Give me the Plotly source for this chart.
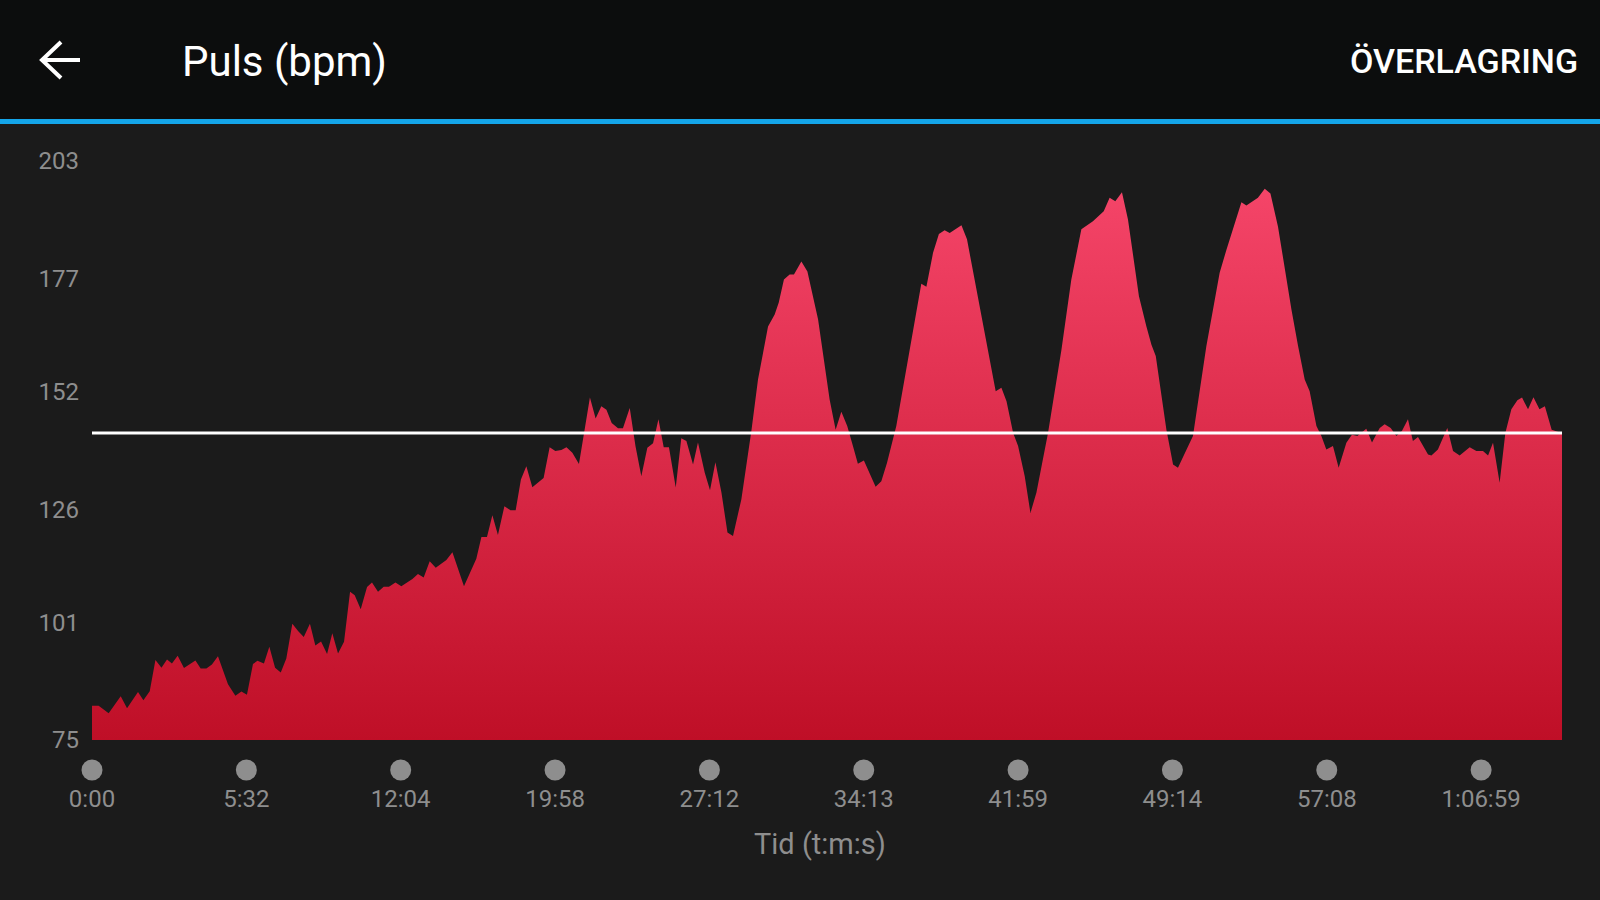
import plotly.graph_objects as go

# x axis: evenly spaced tick positions carrying elapsed-time labels
tick_pos = [0, 1, 2, 3, 4, 5, 6, 7, 8, 9]
tick_time = ["0:00", "5:32", "12:04", "19:58", "27:12", "34:13",
             "41:59", "49:14", "57:08", "1:06:59"]

y_ticks = [75, 101, 126, 152, 177, 203]
avg_bpm = 142.9

pos = [0, 0.043, 0.108, 0.186, 0.227, 0.298, 0.333, 0.374, 0.411, 0.450,
       0.486, 0.518, 0.555, 0.596, 0.670, 0.704, 0.741, 0.777, 0.816, 0.881,
       0.929, 0.968, 1.004, 1.043, 1.072, 1.114, 1.149, 1.186, 1.223, 1.259,
       1.298, 1.335, 1.372, 1.412, 1.447, 1.484, 1.523, 1.557, 1.594, 1.633,
       1.672, 1.702, 1.741, 1.782, 1.814, 1.853, 1.890, 1.924, 1.966, 2.004,
       2.076, 2.112, 2.149, 2.188, 2.227, 2.296, 2.335, 2.410, 2.490, 2.523,
       2.559, 2.594, 2.630, 2.672, 2.711, 2.745, 2.779, 2.814, 2.853, 2.926,
       2.965, 3.002, 3.041, 3.074, 3.112, 3.155, 3.226, 3.263, 3.300, 3.333,
       3.367, 3.408, 3.440, 3.484, 3.521, 3.559, 3.598, 3.635, 3.670, 3.704,
       3.738, 3.782, 3.818, 3.851, 3.894, 3.926, 3.970, 4.004, 4.039, 4.078,
       4.117, 4.153, 4.207, 4.272, 4.315, 4.347, 4.380, 4.423, 4.449, 4.483,
       4.520, 4.548, 4.596, 4.635, 4.704, 4.779, 4.818, 4.855, 4.893, 4.930,
       4.962, 5.001, 5.045, 5.077, 5.114, 5.151, 5.211, 5.276, 5.319, 5.373,
       5.406, 5.449, 5.487, 5.524, 5.557, 5.633, 5.669, 5.730, 5.784, 5.812,
       5.855, 5.892, 5.925, 5.968, 6.000, 6.043, 6.080, 6.119, 6.194, 6.281,
       6.345, 6.410, 6.485, 6.555, 6.593, 6.630, 6.673, 6.712, 6.783, 6.831,
       6.864, 6.892, 6.961, 7.004, 7.036, 7.133, 7.220, 7.263, 7.306, 7.350,
       7.392, 7.447, 7.479, 7.554, 7.598, 7.635, 7.684, 7.727, 7.771, 7.814,
       7.857, 7.889, 7.933, 7.965, 7.997, 8.040, 8.077, 8.127, 8.163, 8.198,
       8.256, 8.293, 8.343, 8.375, 8.414, 8.451, 8.487, 8.526, 8.558, 8.591,
       8.656, 8.678, 8.720, 8.753, 8.781, 8.818, 8.861, 8.926, 8.969, 9.012,
       9.045, 9.077, 9.120, 9.157, 9.196, 9.235, 9.265, 9.304, 9.339, 9.378,
       9.413, 9.457, 9.500, 9.524]

bpm = [82.6, 82.6, 80.9, 84.7, 82.0, 85.6, 83.8, 85.8, 92.7, 91.0,
       92.8, 91.9, 93.6, 90.9, 92.6, 90.8, 90.8, 91.7, 93.5, 87.3,
       84.8, 85.7, 85.0, 91.8, 92.5, 91.9, 95.6, 91.0, 89.9, 93.0,
       100.7, 99.1, 97.8, 100.7, 95.9, 96.8, 94.0, 98.6, 94.1, 96.7,
       107.8, 107.0, 103.9, 108.8, 109.8, 107.8, 108.9, 108.9, 109.8, 109.0,
       110.6, 111.7, 110.9, 114.5, 113.1, 114.8, 116.5, 109.0, 115.1, 119.9,
       119.9, 124.7, 120.3, 126.7, 125.8, 125.8, 132.6, 135.5, 130.9, 132.9,
       139.7, 138.9, 139.1, 139.7, 138.5, 136.0, 150.7, 146.1, 148.8, 148.0,
       145.1, 143.9, 143.9, 148.4, 140.0, 133.3, 139.6, 140.6, 145.9, 139.7,
       139.7, 130.8, 141.7, 141.1, 135.9, 140.8, 134.1, 130.2, 136.4, 129.7,
       120.9, 120.1, 128.2, 143.3, 154.7, 160.6, 166.4, 169.1, 171.7, 176.8,
       177.9, 177.9, 180.8, 178.6, 168.0, 150.3, 143.6, 147.6, 144.4, 140.0,
       136.1, 136.8, 133.3, 131.0, 132.2, 136.3, 144.4, 156.9, 165.8, 175.9,
       175.2, 182.7, 186.9, 187.7, 187.1, 188.8, 185.7, 174.6, 165.0, 160.2,
       152.1, 152.9, 149.9, 142.9, 140.0, 133.3, 125.2, 129.7, 142.9, 161.3,
       176.8, 187.9, 189.7, 191.9, 194.9, 194.1, 196.1, 190.1, 173.1, 166.5,
       162.4, 159.9, 143.6, 135.9, 135.2, 142.2, 162.1, 170.2, 178.3, 183.4,
       187.9, 193.9, 193.2, 194.9, 196.9, 195.8, 188.5, 179.0, 170.2, 162.1,
       154.7, 152.1, 144.4, 142.2, 139.2, 140.0, 135.2, 140.7, 142.5, 142.2,
       143.8, 140.8, 144.0, 144.8, 144.0, 142.2, 143.3, 145.9, 141.1, 142.0,
       138.1, 137.9, 139.2, 141.8, 144.0, 138.9, 137.9, 139.7, 138.9, 138.9,
       137.9, 140.7, 131.9, 142.9, 148.1, 150.1, 150.7, 148.1, 150.8, 148.1,
       148.8, 143.6, 143.1, 143.1]

W, H = 1600, 900
L, R, T, B = 92, 38, 150, 160
plot_w, plot_h = W - L - R, H - T - B
y_lo = 75
y_hi = 75 + plot_h / 4.523


def px(x):
    return (x - L) / plot_w


def py(y):
    return (H - B - y) / plot_h


grey = "#8e8e8e"
font = "Roboto"

fig = go.Figure()

fig.add_trace(go.Scatter(
    x=pos, y=bpm, mode="lines", fill="tozeroy",
    line=dict(width=0, color="#d8294a"),
    fillgradient=dict(type="vertical", start=y_lo, stop=200,
                      colorscale=[[0, "#bf0f27"], [1, "#f6466a"]]),
    hoverinfo="skip", showlegend=False))

# average line
fig.add_trace(go.Scatter(
    x=[pos[0], pos[-1]], y=[avg_bpm, avg_bpm], mode="lines",
    line=dict(color="white", width=3), hoverinfo="skip", showlegend=False))

shapes = [
    dict(type="rect", xref="paper", yref="paper", x0=px(0), x1=px(W),
         y0=py(0), y1=py(119), fillcolor="#0c0d0d", line_width=0, layer="below"),
    dict(type="rect", xref="paper", yref="paper", x0=px(0), x1=px(W),
         y0=py(119), y1=py(124), fillcolor="#14a5e9", line_width=0),
    dict(type="path", xref="paper", yref="paper",
         path=f"M{px(61)},{py(42)} L{px(42)},{py(60)} L{px(61)},{py(78)} "
              f"M{px(42)},{py(60)} L{px(80)},{py(60)}",
         line=dict(color="white", width=4)),
]

# grey dots above the time labels (paper refs so the first one is not clipped)
r = 10.5 / plot_w
for t in tick_pos:
    cx = t / pos[-1]
    shapes.append(dict(type="circle", xref="paper", yref="paper",
                       x0=cx - r, x1=cx + r, y0=py(780.5), y1=py(759.5),
                       fillcolor=grey, line_width=0))

annotations = [
    dict(text="Puls (bpm)", x=px(180), y=py(62), xref="paper", yref="paper",
         xanchor="left", yanchor="middle", showarrow=False,
         font=dict(family=font, size=42, color="white")),
    dict(text="ÖVERLAGRING", x=px(1580), y=py(61), xref="paper", yref="paper",
         xanchor="right", yanchor="middle", showarrow=False,
         font=dict(family=font, size=34, color="white", weight=500)),
    dict(text="Tid (t:m:s)", x=px(820), y=py(844), xref="paper", yref="paper",
         xanchor="center", yanchor="middle", showarrow=False,
         font=dict(family=font, size=29, color=grey)),
]

fig.update_layout(
    width=W, height=H,
    margin=dict(l=L, r=R, t=T, b=B),
    paper_bgcolor="#1b1b1b", plot_bgcolor="#1b1b1b",
    shapes=shapes, annotations=annotations,
    xaxis=dict(range=[0, pos[-1]], tickvals=tick_pos, ticktext=tick_time,
               showgrid=False, zeroline=False, showline=False, ticks="",
               ticklabelstandoff=42,
               tickfont=dict(family=font, size=24, color=grey)),
    yaxis=dict(range=[y_lo, y_hi], tickvals=y_ticks, showgrid=False,
               zeroline=False, showline=False, ticks="", ticklabelstandoff=12,
               tickfont=dict(family=font, size=24, color=grey)),
)

fig.write_html("out.html", config={"displayModeBar": False},
               post_script="document.body.style.margin='0';"
                           "document.body.style.background='#1b1b1b';")
